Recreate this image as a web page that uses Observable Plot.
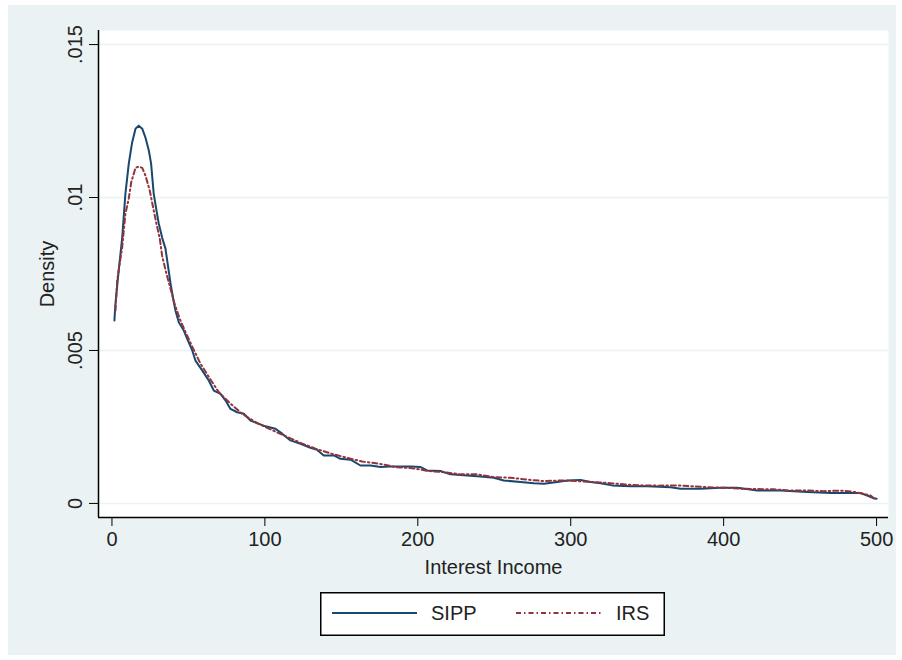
<!DOCTYPE html>
<html>
<head>
<meta charset="utf-8">
<script src="https://cdn.jsdelivr.net/npm/d3@7"></script>
<script src="https://cdn.jsdelivr.net/npm/@observablehq/plot@0.6"></script>
<style>
  html, body { margin: 0; padding: 0; background: #ffffff; }
  #wrap { position: absolute; left: 8px; top: 5px; width: 888px; height: 650px; background: #eaf2f3; }
  #chart { position: absolute; left: 0; top: 0; }
  #legend { position: absolute; left: 312px; top: 587px; }
</style>
</head>
<body>
<div id="wrap">
  <div id="chart"></div>
  <svg id="legend" width="345" height="44"></svg>
</div>
<script>
// ---- data ----
const seriesNames = ["SIPP", "IRS"];
const xTitle = "Interest Income";
const yTitle = "Density";
const xTicks = [0, 100, 200, 300, 400, 500];
const yTicks = [0, 0.005, 0.01, 0.015];
const yTickLabels = ["0", ".005", ".01", ".015"];

const sippX = [1.6, 2.3, 4.4, 6.7, 8.8, 11.0, 13.2, 15.4, 17.5, 19.8, 21.9, 24.1, 25.6, 27.3, 29.1, 30.6, 32.8, 35.0, 36.3, 38.3, 40.0, 41.5, 43.7, 47.0, 49.2, 52.5, 54.6, 59.0, 63.3, 66.6, 71.0, 74.2, 77.5, 81.9, 86.2, 90.6, 95.0, 100.4, 106.9, 111.3, 116.7, 123.3, 129.8, 134.2, 138.5, 145.1, 149.4, 156.0, 162.5, 169.1, 175.6, 182.1, 195.2, 201.8, 206.1, 214.8, 221.4, 230.1, 241.0, 249.7, 256.2, 267.2, 275.9, 282.4, 291.2, 297.7, 306.4, 312.9, 319.5, 327.1, 339.1, 350.0, 365.3, 371.8, 384.9, 398.0, 408.9, 422.0, 437.2, 454.7, 469.9, 489.5, 493.9, 498.2, 500.0];
const sippY = [0.00598, 0.00654, 0.00761, 0.00869, 0.01013, 0.01111, 0.01180, 0.01225, 0.01235, 0.01225, 0.01196, 0.01154, 0.01111, 0.01013, 0.00958, 0.00915, 0.00869, 0.00833, 0.00788, 0.00719, 0.00670, 0.00631, 0.00592, 0.00565, 0.00538, 0.00500, 0.00467, 0.00435, 0.00402, 0.00369, 0.00358, 0.00337, 0.00309, 0.00298, 0.00293, 0.00271, 0.00262, 0.00252, 0.00244, 0.00228, 0.00206, 0.00195, 0.00182, 0.00175, 0.00157, 0.00157, 0.00146, 0.00143, 0.00124, 0.00124, 0.00119, 0.00121, 0.00121, 0.00119, 0.00108, 0.00106, 0.00095, 0.00092, 0.00088, 0.00084, 0.00075, 0.00070, 0.00066, 0.00064, 0.00070, 0.00075, 0.00077, 0.00070, 0.00066, 0.00059, 0.00056, 0.00056, 0.00053, 0.00048, 0.00048, 0.00051, 0.00051, 0.00042, 0.00042, 0.00037, 0.00034, 0.00034, 0.00026, 0.00017, 0.00015];

const irsX = [2.3, 3.4, 6.7, 8.8, 11.0, 12.6, 15.4, 17.5, 19.8, 21.9, 24.7, 26.9, 29.1, 31.3, 32.8, 35.6, 38.3, 40.9, 44.3, 48.1, 53.1, 57.9, 64.0, 69.8, 77.5, 85.2, 94.5, 103.7, 113.5, 123.3, 133.1, 144.0, 153.8, 163.6, 174.5, 185.4, 196.3, 207.2, 217.0, 227.9, 238.8, 249.7, 260.6, 271.5, 282.4, 293.3, 304.2, 315.1, 326.0, 335.8, 346.8, 357.6, 369.7, 379.5, 390.3, 401.2, 411.1, 422.0, 432.8, 443.8, 454.7, 465.5, 476.5, 486.3, 496.1, 498.2, 500.0];
const irsY = [0.00631, 0.00729, 0.00838, 0.00947, 0.00997, 0.01050, 0.01097, 0.01101, 0.01097, 0.01072, 0.01023, 0.00968, 0.00914, 0.00865, 0.00810, 0.00751, 0.00702, 0.00653, 0.00604, 0.00560, 0.00506, 0.00457, 0.00408, 0.00364, 0.00326, 0.00293, 0.00264, 0.00242, 0.00220, 0.00198, 0.00179, 0.00162, 0.00149, 0.00137, 0.00130, 0.00119, 0.00115, 0.00106, 0.00102, 0.00095, 0.00095, 0.00086, 0.00084, 0.00078, 0.00073, 0.00075, 0.00073, 0.00070, 0.00066, 0.00062, 0.00059, 0.00058, 0.00059, 0.00056, 0.00053, 0.00051, 0.00048, 0.00047, 0.00046, 0.00042, 0.00042, 0.00040, 0.00042, 0.00037, 0.00026, 0.00017, 0.00014];

// ---- styling ----
const FONT = "'Liberation Sans', Arial, Helvetica, sans-serif";
const NAVY = "#1a476f";
const MAROON = "#90353b";
const GRID = "#eaf2f3";
const TEXT = "#222222";
const IRS_DASH = "5,3,1.5,3";
const xDomain = [-8.8, 507.8];
const yDomain = [-0.00046, 0.01546];

const sipp = sippX.map((x, i) => ({x, y: sippY[i], series: seriesNames[0]}));
const irs = irsX.map((x, i) => ({x, y: irsY[i], series: seriesNames[1]}));

const chart = Plot.plot({
  width: 888,
  height: 585,
  marginLeft: 90,
  marginRight: 8,
  marginTop: 25,
  marginBottom: 73,
  style: {background: "transparent", fontFamily: FONT, fontSize: "20px", color: TEXT, overflow: "visible"},
  x: {domain: xDomain},
  y: {domain: yDomain},
  marks: [
    Plot.frame({fill: "white", stroke: "none"}),
    Plot.gridY(yTicks, {stroke: GRID, strokeOpacity: 1, strokeWidth: 1.5}),
    Plot.ruleY([yDomain[0]], {stroke: "#000", strokeWidth: 1.5}),
    Plot.ruleX([xDomain[0]], {stroke: "#000", strokeWidth: 1.5}),
    Plot.axisX(xTicks, {tickSize: 9, tickPadding: 5, fontSize: 20, label: null, stroke: "#000", fill: TEXT}),
    Plot.axisY(yTicks, {tickSize: 9, tickFormat: () => "", label: null, stroke: "#000"}),
    Plot.text(yTicks, {y: d => d, text: (d, i) => yTickLabels[i], frameAnchor: "left", dx: -17, rotate: -90, textAnchor: "middle", lineAnchor: "bottom", fontSize: 20, fill: TEXT}),
    Plot.text([yTitle], {frameAnchor: "left", dx: -51, rotate: -90, textAnchor: "middle", lineAnchor: "middle", fontSize: 20, fill: TEXT}),
    Plot.text([xTitle], {frameAnchor: "bottom", dy: 50, textAnchor: "middle", lineAnchor: "middle", fontSize: 20, fill: TEXT}),
    Plot.line(sipp, {x: "x", y: "y", stroke: NAVY, strokeWidth: 2}),
    Plot.line(irs, {x: "x", y: "y", stroke: MAROON, strokeWidth: 2, strokeDasharray: IRS_DASH})
  ]
});
document.getElementById("chart").appendChild(chart);

// ---- legend ----
const lg = d3.select("#legend");
lg.append("rect").attr("x", 0.75).attr("y", 0.75).attr("width", 343.5).attr("height", 42.5)
  .attr("fill", "white").attr("stroke", "#000").attr("stroke-width", 1.5);
const items = [
  {name: seriesNames[0], color: NAVY, dash: null, x1: 12, x2: 97, tx: 111},
  {name: seriesNames[1], color: MAROON, dash: IRS_DASH, x1: 196, x2: 283, tx: 296}
];
items.forEach(it => {
  lg.append("line").attr("x1", it.x1).attr("x2", it.x2).attr("y1", 21).attr("y2", 21)
    .attr("stroke", it.color).attr("stroke-width", 1.8).attr("stroke-dasharray", it.dash);
  lg.append("text").attr("x", it.tx).attr("y", 21).attr("dy", "0.35em")
    .attr("font-family", FONT).attr("font-size", 20).attr("fill", TEXT).text(it.name);
});
</script>
</body>
</html>
